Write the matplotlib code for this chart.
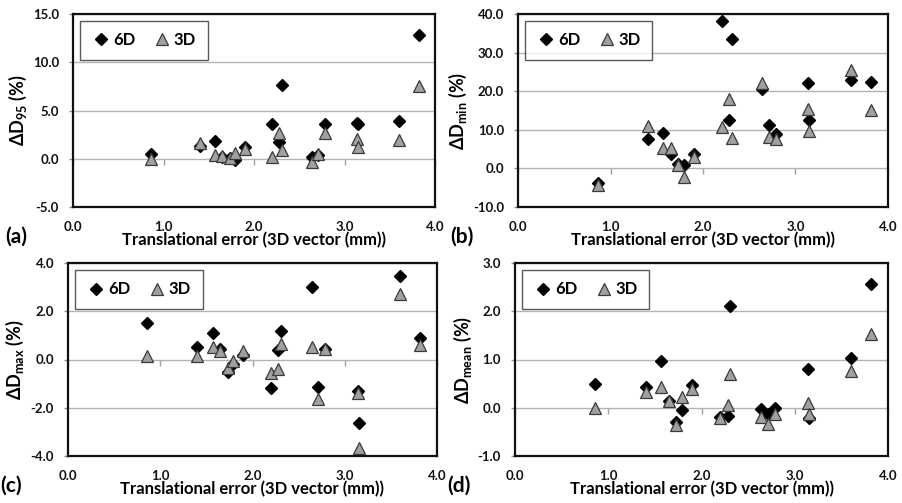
import matplotlib
matplotlib.use("Agg")
import matplotlib.pyplot as plt
import numpy as np

plt.rcParams['font.family'] = ['Lato', 'DejaVu Sans']
plt.rcParams['mathtext.fontset'] = 'custom'
plt.rcParams['mathtext.rm'] = 'Lato:bold'
plt.rcParams['mathtext.bf'] = 'Lato:bold'
plt.rcParams['mathtext.default'] = 'bf'

# translational error (3D vector, mm) per patient
x_err = [0.86, 1.40, 1.57, 1.65, 1.73, 1.79, 1.90, 2.20, 2.28, 2.31,
         2.64, 2.71, 2.79, 3.14, 3.15, 3.60, 3.82]

# (a) delta D95
d95_6d = [0.5, 1.3, 1.8, 0.2, 0.1, -0.1, 1.2, 3.6, 1.7, 7.6,
          0.2, 0.4, 3.6, 3.7, 3.6, 3.9, 12.8]
d95_3d = [0.0, 1.6, 0.4, 0.3, 0.1, 0.6, 1.0, 0.2, 2.7, 0.9,
          -0.3, 0.5, 2.7, 2.0, 1.2, 1.9, 7.5]

# (b) delta Dmin
dmin_6d = [-3.7, 7.7, 9.2, 3.8, 1.2, 0.8, 3.8, 38.2, 12.5, 33.5,
           20.5, 11.2, 9.0, 22.0, 12.5, 23.0, 22.5]
dmin_3d = [-4.3, 11.0, 5.4, 5.3, 0.8, -2.3, 3.0, 10.7, 18.0, 8.0,
           22.0, 8.2, 7.5, 15.5, 9.6, 25.5, 15.0]

# (c) delta Dmax
dmax_6d = [1.5, 0.5, 1.1, 0.45, -0.5, -0.2, 0.2, -1.2, 0.4, 1.2,
           3.0, -1.15, 0.45, -1.3, -2.65, 3.45, 0.9]
dmax_3d = [0.15, 0.15, 0.5, 0.35, -0.35, -0.05, 0.35, -0.55, -0.4, 0.65,
           0.5, -1.65, 0.45, -1.4, -3.65, 2.7, 0.6]

# (d) delta Dmean
dmean_6d = [0.5, 0.42, 0.96, 0.15, -0.3, -0.05, 0.48, -0.2, -0.17, 2.1,
            -0.02, -0.12, 0.0, 0.8, -0.22, 1.03, 2.57]
dmean_3d = [0.0, 0.33, 0.43, 0.15, -0.35, 0.23, 0.38, -0.22, 0.05, 0.7,
            -0.2, -0.33, -0.12, 0.1, -0.12, 0.77, 1.52]

panels = [
    ('(a)', r'$\Delta$D$_{95}$ (%)', d95_6d, d95_3d, (-5, 15), 5),
    ('(b)', r'$\Delta$D$_{min}$ (%)', dmin_6d, dmin_3d, (-10, 40), 10),
    ('(c)', r'$\Delta$D$_{max}$ (%)', dmax_6d, dmax_3d, (-4, 4), 2),
    ('(d)', r'$\Delta$D$_{mean}$ (%)', dmean_6d, dmean_3d, (-1, 3), 1),
]

# axes boxes in pixels: left, right, top, bottom
boxes = [(73, 435, 14, 207), (518, 888, 14, 207),
         (68, 437, 263, 456), (515, 888, 263, 456)]

W, H = 902, 503
fig = plt.figure(figsize=(W / 100, H / 100), dpi=100)

for (lab, ylab, y6, y3, ylim, step), (l, r, t, b) in zip(panels, boxes):
    ax = fig.add_axes([l / W, 1 - b / H, (r - l) / W, (b - t) / H])
    ax.set_xlim(0, 4)
    ax.set_ylim(*ylim)
    ax.set_yticks(np.arange(ylim[0], ylim[1] + 0.01, step))
    ax.set_xticks(np.arange(0, 4.01, 1))
    ax.yaxis.set_major_formatter(matplotlib.ticker.FormatStrFormatter('%.1f'))
    ax.xaxis.set_major_formatter(matplotlib.ticker.FormatStrFormatter('%.1f'))
    ax.grid(axis='y', color='#b4b4b4', lw=1)
    ax.set_axisbelow(True)
    for s in ax.spines.values():
        s.set_linewidth(1.6)
        s.set_color('#111111')
    ax.tick_params(axis='x', length=0, pad=10, labelsize=9.5, colors='#111111')
    ax.tick_params(axis='y', length=3, width=1, color='#909090', pad=7,
                   labelsize=9.5, labelcolor='#111111')
    for tl in ax.get_xticklabels() + ax.get_yticklabels():
        tl.set_fontweight('bold')

    # horizontal axis crossing at zero, with small downward ticks
    sec = ax.secondary_xaxis(0, transform=ax.transData)
    sec.spines['bottom'].set_visible(False)
    sec.set_xticks(np.arange(0, 4.01, 1))
    sec.tick_params(axis='x', length=4, width=1, color='#a0a0a0',
                    labelbottom=False)

    ax.plot(x_err, y6, ls='none', marker='D', ms=6.5, color='black',
            label='6D', zorder=3)
    ax.plot(x_err, y3, ls='none', marker='^', ms=8.5, mfc='#a0a0a0',
            mec='#3a3a3a', mew=0.9, label='3D', zorder=4)

    ax.set_ylabel(ylab, fontsize=13, fontweight='bold', labelpad=3)
    ax.set_xlabel('Translational error (3D vector (mm))', fontsize=12,
                  fontweight='bold', labelpad=-1)
    leg = ax.legend(loc='upper left', ncol=2, fancybox=False, frameon=True,
                    edgecolor='#303030', prop={'weight': 'bold', 'size': 12},
                    handletextpad=0.1, columnspacing=1.0, handlelength=1.2,
                    borderpad=0.7, borderaxespad=0.4)
    leg.get_frame().set_linewidth(1.0)
    fig.text((l - 68) / W, 1 - (b + 40) / H, lab, fontsize=15,
             fontweight='bold', ha='left', va='bottom')

fig.savefig('out.png', dpi=100)
